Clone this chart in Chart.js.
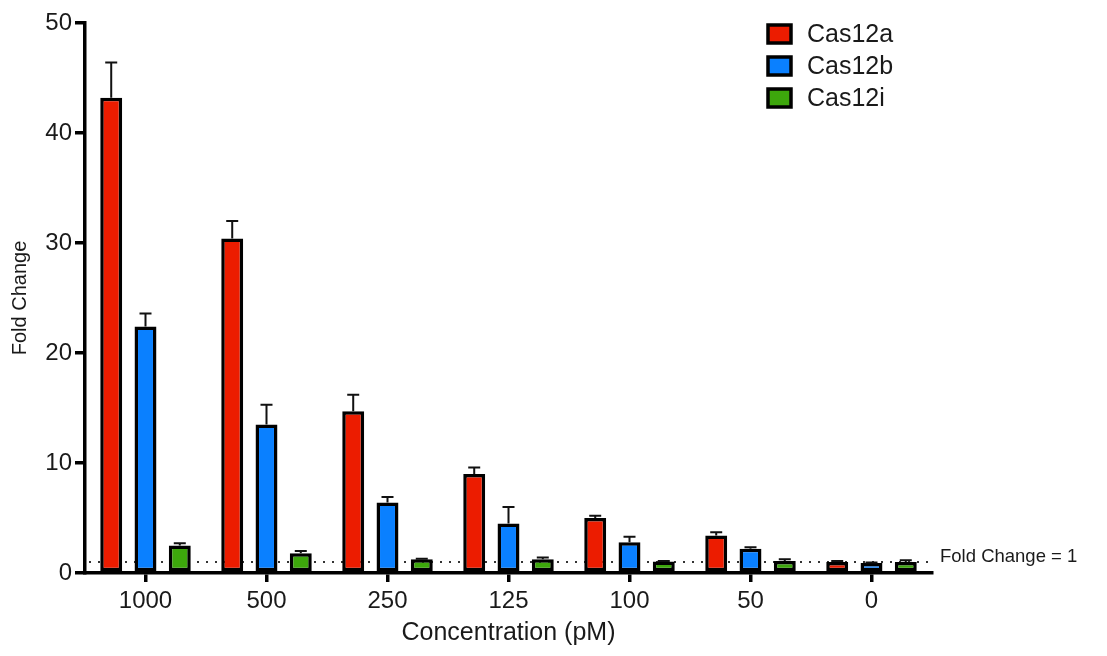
<!DOCTYPE html>
<html>
<head>
<meta charset="utf-8">
<title>Fold Change</title>
<script src="https://cdn.jsdelivr.net/npm/chart.js@4.4.1/dist/chart.umd.min.js"></script>
<style>
  body { margin: 0; background: #fff; }
  #wrap { width: 1107px; height: 656px; }
</style>
</head>
<body>
<div id="wrap"><canvas id="foldChart"></canvas></div>
<script>
// 濃度分類
const concentrations = ['1000', '500', '250', '125', '100', '50', '0'];

// 各酵素的平均值
const cas12aValues = [43.2, 30.4, 14.7, 9.0, 5.0, 3.4, 1.0];
const cas12bValues = [22.4, 13.5, 6.4, 4.5, 2.8, 2.2, 0.9];
const cas12iValues = [2.5, 1.8, 1.25, 1.25, 1.05, 1.1, 1.0];

// 誤差線（只畫上方）
const cas12aErr = [3.2, 1.6, 1.5, 0.6, 0.2, 0.3, 0.1];
const cas12bErr = [1.2, 1.8, 0.5, 1.5, 0.5, 0.15, 0.05];
const cas12iErr = [0.2, 0.2, 0.05, 0.15, 0.05, 0.15, 0.15];

// y 軸刻度
const yMin = 0;
const yMax = 50;
const yStep = 10;

// 參考線
const refValue = 1;
const refLabel = 'Fold Change = 1';

const errList = [cas12aErr, cas12bErr, cas12iErr];

//------------------------------------------------------------------------------
// 誤差線 plugin
const errorBarPlugin = {
  id: 'errorBars',
  afterDatasetsDraw(chart) {
    const ctx = chart.ctx;
    const yScale = chart.scales.y;
    ctx.save();
    ctx.strokeStyle = '#111';
    ctx.lineWidth = 2;
    chart.data.datasets.forEach(function(ds, i) {
      const meta = chart.getDatasetMeta(i);
      meta.data.forEach(function(bar, j) {
        const top = yScale.getPixelForValue(ds.data[j] + errList[i][j]);
        ctx.beginPath();
        ctx.moveTo(bar.x, bar.y);
        ctx.lineTo(bar.x, top);
        ctx.moveTo(bar.x - 6, top);
        ctx.lineTo(bar.x + 6, top);
        ctx.stroke();
      });
    });
    ctx.restore();
  }
};

// 虛線 y = 1 與標籤
const refLinePlugin = {
  id: 'refLine',
  beforeDatasetsDraw(chart) {
    const ctx = chart.ctx;
    const area = chart.chartArea;
    const y = chart.scales.y.getPixelForValue(refValue);
    ctx.save();
    ctx.strokeStyle = '#333';
    ctx.lineWidth = 2;
    ctx.setLineDash([2, 7]);
    ctx.beginPath();
    ctx.moveTo(area.left + 4, y);
    ctx.lineTo(area.right, y);
    ctx.stroke();
    ctx.setLineDash([]);
    ctx.fillStyle = '#1a1a1a';
    ctx.font = '18.5px "Liberation Sans", Arial, sans-serif';
    ctx.textBaseline = 'middle';
    ctx.textAlign = 'left';
    ctx.fillText(refLabel, 940, y - 5);
    ctx.restore();
  }
};

// 自訂圖例（在圖表區內右上）
const legendPlugin = {
  id: 'boxLegend',
  afterDraw(chart) {
    const ctx = chart.ctx;
    ctx.save();
    ctx.font = '25px "Liberation Sans", Arial, sans-serif';
    ctx.textBaseline = 'middle';
    chart.data.datasets.forEach(function(ds, i) {
      const cy = 34 + i * 32;
      ctx.fillStyle = ds.backgroundColor;
      ctx.fillRect(768, cy - 9, 23, 18);
      ctx.strokeStyle = '#000';
      ctx.lineWidth = 3.5;
      ctx.strokeRect(768, cy - 9, 23, 18);
      ctx.fillStyle = '#1a1a1a';
      ctx.fillText(ds.label, 807, cy + 1);
    });
    ctx.restore();
  }
};

//------------------------------------------------------------------------------
// 長條圖
const ctxFold = document.getElementById('foldChart').getContext('2d');
const barStyle = {
  borderColor: '#000',
  borderWidth: 3.5,
  borderSkipped: false,
  categoryPercentage: 0.85,
  barPercentage: 0.64
};

const dataFold = {
  labels: concentrations,
  datasets: [
    Object.assign({ label: 'Cas12a', data: cas12aValues, backgroundColor: '#EC1C00' }, barStyle),
    Object.assign({ label: 'Cas12b', data: cas12bValues, backgroundColor: '#0A80FF' }, barStyle),
    Object.assign({ label: 'Cas12i', data: cas12iValues, backgroundColor: '#3DA70C' }, barStyle)
  ]
};

const configFold = {
  type: 'bar',
  data: dataFold,
  options: {
    responsive: true,
    maintainAspectRatio: false,
    animation: false,
    layout: { padding: { top: 23, right: 175, left: 0, bottom: 0 } },
    plugins: {
      legend: { display: false },
      tooltip: { enabled: false }
    },
    scales: {
      x: {
        afterFit: function(s) { s.height = 83; },
        grid: {
          offset: false,
          drawOnChartArea: false,
          drawTicks: true,
          tickLength: 9,
          color: '#000',
          lineWidth: 3.5
        },
        border: { display: true, color: '#000', width: 3.5 },
        ticks: {
          color: '#1a1a1a',
          padding: 5,
          font: { family: '"Liberation Sans", Arial, sans-serif', size: 24 }
        },
        title: {
          display: true,
          text: 'Concentration (pM)',
          color: '#1a1a1a',
          padding: { top: 0, bottom: 8 },
          font: { family: '"Liberation Sans", Arial, sans-serif', size: 25 }
        }
      },
      y: {
        min: yMin,
        max: yMax,
        afterFit: function(s) { s.width = 85; },
        grid: {
          drawOnChartArea: false,
          drawTicks: true,
          tickLength: 10,
          color: '#000',
          lineWidth: 3.5
        },
        border: { display: true, color: '#000', width: 3.5 },
        ticks: {
          stepSize: yStep,
          color: '#1a1a1a',
          padding: 3,
          font: { family: '"Liberation Sans", Arial, sans-serif', size: 24 }
        },
        title: {
          display: true,
          text: 'Fold Change',
          color: '#1a1a1a',
          padding: { top: 8, bottom: 0 },
          font: { family: '"Liberation Sans", Arial, sans-serif', size: 20 }
        }
      }
    }
  },
  plugins: [refLinePlugin, errorBarPlugin, legendPlugin]
};
const foldChart = new Chart(ctxFold, configFold);
</script>
</body>
</html>
